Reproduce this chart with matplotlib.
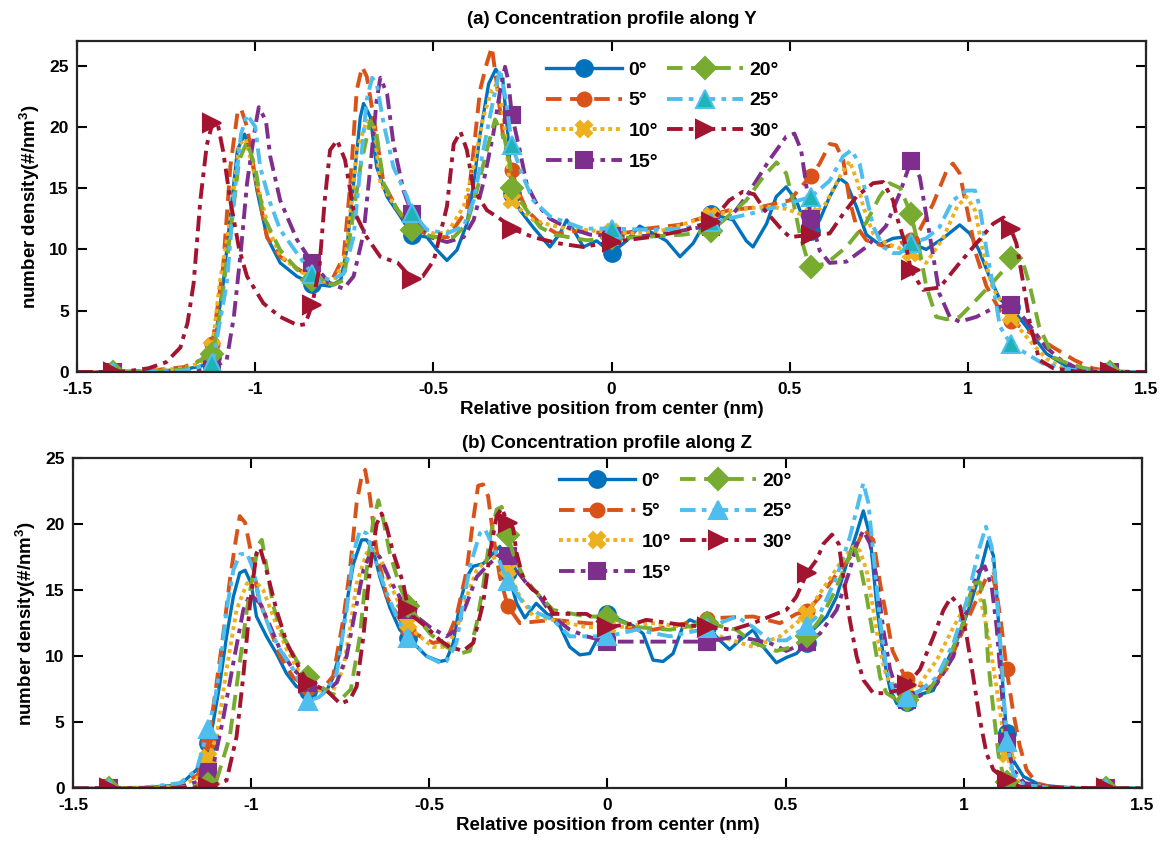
import numpy as np
import matplotlib
matplotlib.use('Agg')
import matplotlib.pyplot as plt

plt.rcParams['font.family'] = ['Liberation Sans', 'DejaVu Sans']
plt.rcParams['font.weight'] = 'bold'
plt.rcParams['axes.unicode_minus'] = False
plt.rcParams['mathtext.fontset'] = 'custom'
plt.rcParams['mathtext.rm'] = 'Liberation Sans:bold'
plt.rcParams['mathtext.bf'] = 'Liberation Sans:bold'
plt.rcParams['mathtext.it'] = 'Liberation Sans:bold:italic'

labels = ['0°', '5°', '10°', '15°', '20°', '25°', '30°']
marker_x = [-1.4, -1.12, -0.84, -0.56, -0.28, 0.0, 0.28, 0.56, 0.84, 1.12, 1.4]
xticks = [-1.5, -1, -0.5, 0, 0.5, 1, 1.5]
xtick_labels = ['-1.5', '-1', '-0.5', '0', '0.5', '1', '1.5']
yticks = [0, 5, 10, 15, 20, 25]

# ---------------- (a) profile along Y : (x, density) ----------------
a_0 = [(-1.5,0),(-1.4,0),(-1.3,0.05),(-1.2,0.2),(-1.15,0.5),(-1.12,1.2),(-1.09,7.2),(-1.07,12.7),(-1.05,18.1),(-1.03,19.4),(-1.014,18.1),(-0.995,14.8),(-0.967,11.0),(-0.93,8.9),(-0.883,7.8),(-0.84,7.2),(-0.79,7.0),(-0.76,7.5),(-0.743,10.0),(-0.724,15.4),(-0.705,20.8),(-0.696,21.9),(-0.677,20.8),(-0.659,16.7),(-0.63,14.3),(-0.593,12.7),(-0.56,11.2),(-0.518,11.0),(-0.49,9.95),(-0.462,9.1),(-0.434,9.95),(-0.406,12.1),(-0.387,15.4),(-0.369,19.4),(-0.345,23.5),(-0.325,24.7),(-0.305,23.8),(-0.29,19.0),(-0.28,14.5),(-0.257,13.2),(-0.22,11.8),(-0.173,10.2),(-0.145,11.3),(-0.126,12.4),(-0.107,11.6),(-0.079,10.2),(-0.042,10.7),(0.0,9.7),(0.042,10.7),(0.079,11.9),(0.117,11.3),(0.154,10.7),(0.192,9.4),(0.229,10.5),(0.266,12.4),(0.28,12.9),(0.341,12.4),(0.378,10.7),(0.397,10.2),(0.435,12.1),(0.462,14.3),(0.49,15.1),(0.518,14.0),(0.546,11.9),(0.56,11.5),(0.584,12.4),(0.612,14.3),(0.64,15.8),(0.659,15.4),(0.687,13.5),(0.715,11.2),(0.752,10.4),(0.79,10.9),(0.818,11.0),(0.84,10.5),(0.883,10.0),(0.93,10.9),(0.977,12.0),(1.005,11.3),(1.03,10.0),(1.06,7.8),(1.09,5.9),(1.12,5.3),(1.164,3.7),(1.22,1.5),(1.28,0.4),(1.35,0.05),(1.4,0),(1.5,0)]
a_5 = [(-1.5,0),(-1.4,0),(-1.3,0.1),(-1.2,0.4),(-1.15,1.0),(-1.12,2.3),(-1.09,8.6),(-1.07,16.7),(-1.05,21.1),(-1.04,21.5),(-1.023,20.0),(-1.0,15.9),(-0.967,11.0),(-0.93,9.4),(-0.88,8.4),(-0.84,7.7),(-0.79,7.2),(-0.752,9.4),(-0.733,15.4),(-0.715,23.0),(-0.7,24.9),(-0.687,24.1),(-0.668,20.8),(-0.64,15.4),(-0.6,13.2),(-0.56,11.8),(-0.5,11.0),(-0.46,11.0),(-0.406,13.2),(-0.387,18.1),(-0.369,23.0),(-0.35,25.2),(-0.336,26.5),(-0.322,23.5),(-0.303,18.9),(-0.28,16.5),(-0.266,15.0),(-0.238,13.2),(-0.2,12.1),(-0.154,11.3),(-0.1,11.5),(-0.05,11.4),(0.0,11.3),(0.05,11.4),(0.1,11.7),(0.19,12.0),(0.28,12.8),(0.33,13.2),(0.425,13.5),(0.5,14.0),(0.547,15.6),(0.56,16.0),(0.584,17.0),(0.612,18.6),(0.63,18.5),(0.65,17.3),(0.668,14.0),(0.687,11.9),(0.715,10.75),(0.77,10.2),(0.82,10.6),(0.84,10.8),(0.865,11.6),(0.902,13.7),(0.94,16.4),(0.958,17.0),(0.977,16.2),(0.996,13.5),(1.024,9.5),(1.052,7.0),(1.09,5.0),(1.12,4.2),(1.146,3.7),(1.192,2.9),(1.24,2.0),(1.3,0.95),(1.35,0.3),(1.4,0.05),(1.5,0)]
a_10 = [(-1.5,0),(-1.4,0),(-1.3,0.1),(-1.2,0.3),(-1.15,0.8),(-1.12,2.0),(-1.1,7.2),(-1.07,12.5),(-1.045,18.6),(-1.027,19.0),(-1.0,15.9),(-0.96,11.5),(-0.93,9.5),(-0.88,8.3),(-0.84,7.7),(-0.78,7.2),(-0.745,9.7),(-0.715,18.1),(-0.687,20.5),(-0.667,20.0),(-0.649,15.4),(-0.6,13.2),(-0.56,12.0),(-0.5,11.3),(-0.46,11.4),(-0.415,13.5),(-0.387,16.7),(-0.36,20.8),(-0.336,23.0),(-0.322,23.5),(-0.303,20.8),(-0.29,16.5),(-0.28,14.0),(-0.257,13.3),(-0.22,12.4),(-0.173,12.0),(-0.126,11.7),(-0.08,11.6),(0.0,11.4),(0.061,11.3),(0.154,11.6),(0.248,12.5),(0.28,12.7),(0.341,13.2),(0.435,13.5),(0.49,13.3),(0.528,12.9),(0.56,12.7),(0.6,13.7),(0.64,15.9),(0.668,17.2),(0.69,15.5),(0.706,13.5),(0.734,11.3),(0.77,10.5),(0.8,10.2),(0.84,9.7),(0.883,8.9),(0.93,10.9),(0.97,13.5),(0.996,14.3),(1.02,13.2),(1.043,9.7),(1.07,6.8),(1.12,4.6),(1.146,3.5),(1.184,2.2),(1.22,1.1),(1.26,0.4),(1.3,0.1),(1.4,0),(1.5,0)]
a_15 = [(-1.5,0),(-1.4,0),(-1.3,0.02),(-1.2,0.05),(-1.12,0.3),(-1.08,1.0),(-1.06,4.5),(-1.04,9.95),(-1.023,15.4),(-1.0,20.0),(-0.99,21.6),(-0.97,20.5),(-0.958,17.6),(-0.93,14.0),(-0.883,10.8),(-0.84,8.9),(-0.79,7.2),(-0.752,6.8),(-0.724,7.8),(-0.696,11.3),(-0.677,16.7),(-0.659,22.2),(-0.649,24.0),(-0.63,22.7),(-0.612,18.6),(-0.584,14.8),(-0.56,12.9),(-0.509,11.0),(-0.462,10.6),(-0.415,11.0),(-0.387,12.4),(-0.36,15.4),(-0.332,19.4),(-0.313,22.9),(-0.299,24.9),(-0.29,23.8),(-0.28,21.0),(-0.257,18.0),(-0.238,15.3),(-0.21,13.7),(-0.173,12.5),(-0.126,11.8),(-0.06,11.2),(0.0,11.1),(0.061,11.0),(0.154,11.3),(0.248,11.8),(0.28,11.8),(0.341,12.9),(0.378,14.3),(0.443,17.3),(0.49,19.2),(0.513,19.45),(0.532,18.1),(0.547,15.1),(0.56,12.5),(0.584,9.9),(0.612,8.9),(0.659,9.0),(0.715,10.2),(0.77,11.9),(0.809,14.6),(0.84,17.2),(0.865,15.9),(0.892,11.3),(0.92,6.4),(0.949,4.5),(0.977,4.1),(1.024,4.5),(1.071,5.2),(1.12,5.5),(1.146,4.8),(1.184,3.4),(1.22,2.0),(1.26,1.0),(1.3,0.4),(1.4,0),(1.5,0)]
a_20 = [(-1.5,0),(-1.4,0),(-1.3,0.05),(-1.2,0.2),(-1.12,1.5),(-1.1,4.5),(-1.07,11.3),(-1.045,17.3),(-1.023,18.8),(-1.0,16.7),(-0.977,12.7),(-0.93,9.95),(-0.88,8.3),(-0.84,7.5),(-0.78,7.1),(-0.752,7.5),(-0.733,11.3),(-0.705,16.7),(-0.677,20.5),(-0.66,19.5),(-0.64,15.4),(-0.6,13.2),(-0.56,11.6),(-0.5,11.0),(-0.443,11.0),(-0.406,12.1),(-0.378,14.8),(-0.35,18.1),(-0.327,20.6),(-0.3,19.0),(-0.284,16.7),(-0.28,15.0),(-0.238,13.2),(-0.2,11.8),(-0.16,11.2),(-0.07,10.75),(0.0,10.9),(0.08,11.0),(0.2,11.2),(0.28,11.5),(0.378,14.0),(0.425,15.9),(0.463,17.1),(0.49,16.2),(0.509,14.0),(0.528,11.3),(0.547,9.4),(0.56,8.6),(0.603,8.85),(0.659,10.2),(0.715,12.2),(0.752,14.3),(0.78,15.4),(0.81,15.0),(0.84,12.9),(0.864,10.0),(0.883,7.0),(0.911,4.5),(0.94,4.3),(0.977,4.5),(1.024,5.9),(1.06,7.0),(1.1,8.3),(1.12,9.3),(1.155,8.9),(1.174,7.0),(1.2,3.7),(1.24,1.2),(1.28,0.7),(1.33,0.3),(1.4,0),(1.5,0)]
a_25 = [(-1.5,0),(-1.4,0),(-1.3,0.02),(-1.2,0.1),(-1.12,0.7),(-1.08,7.2),(-1.06,14.0),(-1.04,19.4),(-1.023,21.0),(-1.0,20.0),(-0.986,16.7),(-0.958,13.8),(-0.93,11.6),(-0.883,9.7),(-0.84,8.0),(-0.79,7.5),(-0.752,8.0),(-0.724,11.0),(-0.705,16.7),(-0.687,22.2),(-0.672,24.0),(-0.659,23.5),(-0.64,20.3),(-0.612,16.7),(-0.574,14.3),(-0.56,13.0),(-0.518,11.6),(-0.462,11.3),(-0.415,11.9),(-0.387,14.0),(-0.36,18.1),(-0.332,22.2),(-0.313,24.7),(-0.295,22.0),(-0.28,18.5),(-0.248,15.9),(-0.22,14.0),(-0.173,12.7),(-0.08,11.7),(0.0,11.7),(0.107,11.6),(0.2,11.7),(0.28,12.2),(0.388,12.9),(0.48,13.6),(0.56,14.3),(0.612,15.6),(0.65,17.6),(0.673,18.1),(0.696,17.0),(0.715,14.3),(0.734,11.9),(0.762,10.2),(0.79,9.7),(0.809,9.7),(0.84,10.5),(0.883,10.9),(0.92,11.8),(0.958,14.0),(0.996,14.8),(1.02,14.8),(1.033,13.5),(1.052,10.0),(1.071,7.0),(1.09,3.7),(1.12,2.3),(1.164,1.5),(1.21,0.7),(1.28,0.2),(1.4,0),(1.5,0)]
a_30 = [(-1.5,0),(-1.4,0),(-1.35,0.1),(-1.3,0.3),(-1.25,0.8),(-1.21,2.0),(-1.19,4.0),(-1.173,7.2),(-1.154,14.0),(-1.136,18.5),(-1.12,20.3),(-1.107,20.5),(-1.09,18.0),(-1.07,14.0),(-1.045,10.0),(-1.023,7.8),(-0.977,5.6),(-0.93,4.5),(-0.88,3.8),(-0.86,3.9),(-0.84,5.5),(-0.82,8.5),(-0.805,14.0),(-0.79,18.1),(-0.77,18.9),(-0.748,17.3),(-0.724,13.2),(-0.687,11.0),(-0.649,9.4),(-0.6,8.9),(-0.56,7.6),(-0.53,7.8),(-0.499,9.1),(-0.462,13.5),(-0.443,18.6),(-0.424,19.6),(-0.406,18.1),(-0.387,14.9),(-0.35,13.2),(-0.313,12.5),(-0.28,11.7),(-0.22,11.0),(-0.15,10.5),(-0.08,10.2),(0.0,10.6),(0.107,11.0),(0.19,11.45),(0.28,12.25),(0.33,14.0),(0.368,14.7),(0.4,14.5),(0.43,13.2),(0.472,11.8),(0.5,11.0),(0.56,11.2),(0.612,11.3),(0.65,12.9),(0.687,14.3),(0.734,15.4),(0.762,15.5),(0.79,14.0),(0.80,12.7),(0.827,10.2),(0.84,8.3),(0.874,6.7),(0.921,6.9),(0.977,8.9),(1.024,10.5),(1.071,12.1),(1.1,12.6),(1.12,11.7),(1.136,10.5),(1.155,7.3),(1.174,4.0),(1.2,1.0),(1.24,0.3),(1.3,0.05),(1.4,0),(1.5,0)]

# ---------------- (b) profile along Z : (x, density) ----------------
b_0 = [(-1.5,0),(-1.4,0),(-1.3,0.05),(-1.2,0.25),(-1.153,1.4),(-1.12,3.4),(-1.107,4.9),(-1.088,7.9),(-1.069,11.5),(-1.05,14.5),(-1.032,16.3),(-1.017,16.5),(-1.0,15.5),(-0.985,13.0),(-0.957,11.5),(-0.929,10.2),(-0.901,8.7),(-0.873,7.7),(-0.84,7.4),(-0.788,7.4),(-0.77,8.4),(-0.75,10.4),(-0.732,14.0),(-0.713,17.0),(-0.69,18.8),(-0.676,18.8),(-0.657,18.0),(-0.639,16.0),(-0.611,13.7),(-0.583,12.0),(-0.56,11.4),(-0.508,10.0),(-0.47,9.6),(-0.452,9.7),(-0.433,11.0),(-0.414,14.0),(-0.395,16.0),(-0.377,16.8),(-0.349,17.0),(-0.32,17.8),(-0.302,18.3),(-0.288,17.3),(-0.28,16.4),(-0.255,14.0),(-0.232,12.9),(-0.2,14.0),(-0.162,13.0),(-0.134,12.3),(-0.106,10.7),(-0.078,10.1),(-0.05,10.2),(-0.021,11.7),(0.0,13.2),(0.035,12.75),(0.072,12.3),(0.1,11.7),(0.128,9.7),(0.156,9.6),(0.184,10.2),(0.212,12.3),(0.231,12.75),(0.28,12.2),(0.315,11.2),(0.343,10.5),(0.371,11.2),(0.409,12.0),(0.437,10.7),(0.474,9.5),(0.502,9.9),(0.53,10.2),(0.56,11.0),(0.577,12.0),(0.615,13.0),(0.643,14.5),(0.671,17.0),(0.699,19.3),(0.718,21.0),(0.737,19.06),(0.755,14.0),(0.774,10.0),(0.793,7.5),(0.812,6.4),(0.84,6.5),(0.877,7.1),(0.914,7.4),(0.951,9.5),(0.989,11.7),(1.017,13.8),(1.045,16.3),(1.068,18.7),(1.083,17.6),(1.092,14.8),(1.101,10.9),(1.112,6.8),(1.12,4.2),(1.139,2.1),(1.167,0.9),(1.214,0.25),(1.3,0.02),(1.4,0),(1.5,0)]
b_5 = [(-1.5,0),(-1.4,0),(-1.3,0.05),(-1.2,0.2),(-1.15,1.0),(-1.12,3.5),(-1.107,6.0),(-1.079,11.5),(-1.06,15.7),(-1.046,18.3),(-1.032,20.6),(-1.017,20.1),(-1.0,17.8),(-0.98,14.5),(-0.957,12.8),(-0.919,10.0),(-0.882,8.4),(-0.84,7.6),(-0.8,7.5),(-0.77,8.5),(-0.742,12.7),(-0.723,16.5),(-0.704,21.6),(-0.69,23.6),(-0.68,24.1),(-0.667,22.1),(-0.648,18.0),(-0.62,14.5),(-0.583,12.8),(-0.56,12.0),(-0.49,11.0),(-0.452,11.2),(-0.424,13.0),(-0.395,16.5),(-0.377,20.3),(-0.363,22.9),(-0.349,23.0),(-0.335,22.1),(-0.32,19.0),(-0.302,16.0),(-0.28,13.8),(-0.246,12.5),(-0.153,12.75),(-0.059,12.5),(0.0,12.4),(0.035,12.2),(0.128,12.0),(0.222,12.5),(0.28,12.8),(0.315,12.9),(0.409,13.0),(0.484,12.5),(0.53,13.2),(0.56,13.4),(0.596,14.5),(0.643,16.2),(0.69,17.8),(0.72,19.6),(0.746,18.8),(0.765,15.5),(0.783,13.0),(0.8,10.4),(0.83,8.7),(0.84,8.3),(0.86,8.0),(0.9,7.5),(0.951,9.0),(0.99,11.5),(1.036,14.3),(1.064,16.0),(1.08,16.2),(1.092,14.8),(1.106,12.2),(1.12,9.0),(1.139,5.7),(1.157,3.2),(1.176,1.4),(1.204,0.4),(1.25,0.05),(1.4,0),(1.5,0)]
b_10 = [(-1.5,0),(-1.4,0),(-1.3,0.03),(-1.2,0.15),(-1.15,0.8),(-1.12,2.3),(-1.097,3.9),(-1.069,9.0),(-1.041,13.5),(-1.012,15.5),(-0.993,15.8),(-0.966,15.0),(-0.938,13.0),(-0.9,10.5),(-0.863,8.7),(-0.84,8.0),(-0.807,7.4),(-0.77,7.4),(-0.742,9.0),(-0.723,12.0),(-0.704,15.5),(-0.676,17.8),(-0.657,18.0),(-0.635,17.3),(-0.611,15.5),(-0.573,13.3),(-0.56,12.5),(-0.536,11.7),(-0.49,10.7),(-0.452,10.7),(-0.424,12.0),(-0.395,14.5),(-0.367,16.5),(-0.339,17.3),(-0.311,17.5),(-0.283,16.8),(-0.28,16.6),(-0.246,14.5),(-0.208,13.0),(-0.153,12.75),(-0.059,12.2),(0.0,12.2),(0.035,12.2),(0.128,12.5),(0.222,12.2),(0.28,11.9),(0.315,11.5),(0.409,10.7),(0.484,11.5),(0.53,12.5),(0.56,13.2),(0.577,14.0),(0.615,15.5),(0.652,17.0),(0.69,18.3),(0.708,18.0),(0.727,16.5),(0.746,13.5),(0.765,10.4),(0.783,8.4),(0.821,7.4),(0.84,7.5),(0.877,7.9),(0.924,9.7),(0.971,12.2),(1.008,14.0),(1.026,15.2),(1.045,14.5),(1.064,12.2),(1.083,9.2),(1.101,5.9),(1.12,2.6),(1.139,0.9),(1.17,0.25),(1.25,0.02),(1.4,0),(1.5,0)]
b_15 = [(-1.5,0),(-1.4,0),(-1.3,0.02),(-1.2,0.1),(-1.15,0.5),(-1.12,1.2),(-1.107,1.6),(-1.079,5.2),(-1.05,9.5),(-1.022,13.5),(-1.003,14.7),(-0.975,14.0),(-0.947,12.3),(-0.919,10.5),(-0.882,9.0),(-0.84,8.0),(-0.788,7.4),(-0.76,8.0),(-0.732,10.0),(-0.713,12.7),(-0.685,16.5),(-0.662,18.0),(-0.639,17.5),(-0.611,15.8),(-0.573,14.0),(-0.56,13.5),(-0.498,12.2),(-0.452,11.5),(-0.424,12.0),(-0.395,14.0),(-0.367,16.0),(-0.339,16.8),(-0.311,17.5),(-0.288,18.0),(-0.28,17.6),(-0.255,16.5),(-0.227,15.5),(-0.19,14.5),(-0.153,13.0),(-0.106,12.0),(-0.059,11.5),(0.0,11.1),(0.081,11.1),(0.175,11.1),(0.28,11.1),(0.362,11.5),(0.455,11.0),(0.502,10.4),(0.56,11.1),(0.596,11.7),(0.643,13.5),(0.68,16.5),(0.699,18.5),(0.718,19.5),(0.737,18.5),(0.755,16.0),(0.774,12.0),(0.793,9.0),(0.812,7.4),(0.84,6.7),(0.877,7.0),(0.924,7.9),(0.971,10.0),(1.008,13.5),(1.036,16.3),(1.059,16.8),(1.078,15.3),(1.092,12.2),(1.101,9.2),(1.111,5.7),(1.12,3.5),(1.139,1.4),(1.17,0.4),(1.25,0.03),(1.4,0),(1.5,0)]
b_20 = [(-1.5,0),(-1.4,0),(-1.3,0.01),(-1.2,0.05),(-1.12,0.3),(-1.097,0.6),(-1.06,3.9),(-1.032,9.5),(-1.012,13.5),(-0.993,16.5),(-0.979,18.5),(-0.97,18.8),(-0.957,16.8),(-0.938,13.8),(-0.91,11.5),(-0.873,9.7),(-0.84,8.4),(-0.779,7.2),(-0.742,6.9),(-0.72,7.5),(-0.695,11.5),(-0.676,16.5),(-0.657,20.3),(-0.643,21.8),(-0.629,20.3),(-0.611,17.8),(-0.583,15.3),(-0.56,13.8),(-0.545,13.3),(-0.498,11.7),(-0.452,10.7),(-0.414,10.2),(-0.386,10.4),(-0.367,12.5),(-0.349,15.3),(-0.33,19.0),(-0.311,21.1),(-0.297,21.3),(-0.28,19.2),(-0.265,17.8),(-0.236,16.0),(-0.199,14.8),(-0.153,13.5),(-0.059,13.0),(0.0,13.0),(0.081,12.2),(0.175,12.0),(0.28,12.5),(0.362,12.0),(0.409,11.0),(0.474,10.4),(0.52,10.7),(0.56,11.5),(0.596,12.75),(0.634,14.7),(0.671,17.0),(0.69,18.5),(0.708,17.0),(0.727,14.5),(0.746,11.5),(0.765,8.4),(0.783,7.2),(0.812,6.7),(0.84,6.7),(0.9,7.3),(0.952,9.5),(0.999,12.5),(1.026,15.5),(1.045,15.6),(1.059,13.8),(1.068,9.7),(1.083,5.9),(1.097,2.6),(1.111,0.9),(1.12,0.5),(1.16,0.1),(1.4,0),(1.5,0)]
b_25 = [(-1.5,0),(-1.4,0),(-1.3,0.05),(-1.2,0.4),(-1.153,1.4),(-1.12,4.5),(-1.1,7.0),(-1.088,9.0),(-1.069,13.5),(-1.05,16.5),(-1.032,17.7),(-1.012,17.8),(-0.993,16.5),(-0.975,14.0),(-0.947,12.0),(-0.919,10.5),(-0.882,9.0),(-0.86,7.8),(-0.84,6.6),(-0.81,6.9),(-0.788,7.4),(-0.76,8.7),(-0.732,13.5),(-0.713,17.8),(-0.695,19.5),(-0.676,19.3),(-0.655,17.5),(-0.62,14.8),(-0.592,13.0),(-0.56,11.4),(-0.508,10.0),(-0.47,9.5),(-0.452,9.6),(-0.424,11.0),(-0.405,14.0),(-0.386,16.8),(-0.358,19.3),(-0.344,19.6),(-0.32,18.3),(-0.293,16.5),(-0.28,15.7),(-0.236,14.0),(-0.199,13.3),(-0.153,12.75),(-0.106,11.5),(-0.059,11.5),(0.0,11.5),(0.081,12.0),(0.175,11.5),(0.28,12.1),(0.315,12.5),(0.362,13.0),(0.409,12.2),(0.455,11.2),(0.502,11.2),(0.56,12.3),(0.596,13.2),(0.643,16.0),(0.68,19.0),(0.704,21.6),(0.718,23.1),(0.732,21.6),(0.746,17.8),(0.765,12.75),(0.783,9.0),(0.802,7.4),(0.84,6.9),(0.877,7.4),(0.924,8.4),(0.971,11.0),(1.008,14.2),(1.045,18.3),(1.062,19.8),(1.078,18.3),(1.092,14.8),(1.106,9.7),(1.12,3.5),(1.139,1.1),(1.17,0.25),(1.25,0.02),(1.4,0),(1.5,0)]
b_30 = [(-1.5,0),(-1.4,0),(-1.3,0.01),(-1.2,0.02),(-1.12,0.1),(-1.1,0.3),(-1.069,0.6),(-1.041,3.9),(-1.022,8.5),(-1.003,14.0),(-0.985,17.8),(-0.975,18.2),(-0.957,16.5),(-0.929,13.5),(-0.9,11.0),(-0.863,9.0),(-0.84,8.0),(-0.788,7.4),(-0.75,6.4),(-0.723,6.7),(-0.704,7.7),(-0.685,11.5),(-0.667,16.5),(-0.648,20.0),(-0.634,20.8),(-0.62,19.8),(-0.601,17.8),(-0.573,15.5),(-0.56,13.6),(-0.545,13.0),(-0.508,12.2),(-0.47,11.2),(-0.443,10.7),(-0.405,10.4),(-0.377,11.0),(-0.349,14.0),(-0.33,17.8),(-0.311,20.6),(-0.297,21.2),(-0.28,20.1),(-0.265,19.7),(-0.255,17.8),(-0.236,15.8),(-0.208,15.0),(-0.18,14.5),(-0.153,13.2),(-0.059,13.2),(0.0,12.2),(0.081,12.5),(0.109,12.75),(0.2,12.4),(0.28,12.2),(0.35,12.0),(0.409,12.5),(0.455,13.0),(0.502,13.5),(0.53,14.5),(0.56,16.3),(0.587,17.3),(0.606,18.5),(0.63,19.2),(0.649,18.5),(0.662,16.0),(0.68,12.75),(0.699,10.0),(0.718,8.2),(0.746,7.2),(0.78,7.2),(0.812,7.4),(0.84,7.8),(0.877,9.0),(0.915,11.5),(0.943,13.5),(0.965,14.5),(0.989,13.8),(1.008,11.5),(1.026,8.5),(1.045,5.2),(1.064,2.6),(1.083,1.4),(1.12,0.6),(1.16,0.1),(1.4,0),(1.5,0)]

series_a = [a_0, a_5, a_10, a_15, a_20, a_25, a_30]
series_b = [b_0, b_5, b_10, b_15, b_20, b_25, b_30]

# ---------------- styles ----------------
colors = ['#0072BD', '#D95319', '#EDB120', '#7E2F8E', '#77AC30', '#4DBEEE', '#A2142F']
markers = ['o', 'o', 'X', 's', 'D', '^', '>']
msizes = [12, 10, 12, 11, 11, 13, 13]
dash_solid = '-'
dash_dashed = (0, (4.0, 2.2))
dash_dotted = (0, (1.0, 1.0))
dash_dashdot = (0, (4.0, 1.6, 1.2, 1.6))
linestyles = [dash_solid, dash_dashed, dash_dotted, dash_dashdot, dash_dashed, dash_dashdot, dash_dashdot]
lwidths = [2.4, 2.8, 2.8, 2.8, 2.8, 2.8, 2.8]
face_a = ['#0072BD', '#D95319', '#EDB120', '#7E2F8E', '#77AC30', '#1DB3B8', '#A2142F']
face_b = ['#0072BD', '#D95319', '#EDB120', '#7E2F8E', '#77AC30', '#4DBEEE', '#A2142F']

fig = plt.figure(figsize=(11.64, 8.47), dpi=100)
ax_a = fig.add_axes([0.0662, 0.5608, 0.9184, 0.3908])
ax_b = fig.add_axes([0.0627, 0.0693, 0.9184, 0.3900])


def draw(ax, series, faces, ylim, title, title_pad, legend_anchor):
    handles = []
    for i, data in enumerate(series):
        arr = np.array(data, dtype=float)
        xs, ys = arr[:, 0], arr[:, 1]
        idx = [k for k, xv in enumerate(xs) if np.any(np.isclose(xv, marker_x))]
        ln, = ax.plot(xs, ys, color=colors[i], linestyle=linestyles[i],
                      linewidth=lwidths[i], marker=markers[i], markevery=idx,
                      markersize=msizes[i], markerfacecolor=faces[i],
                      markeredgecolor=colors[i], markeredgewidth=1.5,
                      dash_capstyle='butt', label=labels[i])
        handles.append(ln)
    ax.set_xlim(-1.5, 1.5)
    ax.set_ylim(*ylim)
    ax.set_xticks(xticks)
    ax.set_xticklabels(xtick_labels)
    ax.set_yticks(yticks)
    ax.tick_params(direction='in', top=True, right=True, length=7, width=1.5,
                   labelsize=12.5)
    ax.tick_params(axis='x', pad=7)
    ax.tick_params(axis='y', pad=6)
    for sp in ax.spines.values():
        sp.set_linewidth(1.6)
        sp.set_color('#262626')
    ax.set_xlabel('Relative position from center (nm)', fontsize=13.5,
                  fontweight='bold', labelpad=3)
    ax.set_ylabel(r'number density(#/nm$^\mathbf{3}$)', fontsize=13.5,
                  fontweight='bold', labelpad=5)
    ax.set_title(title, fontsize=13.5, fontweight='bold', pad=title_pad)
    ax.legend(handles=handles, ncol=2, loc='upper left',
              bbox_to_anchor=legend_anchor, bbox_transform=fig.transFigure,
              frameon=False, fontsize=14, handlelength=3.9, handletextpad=0.35,
              columnspacing=0.45, labelspacing=0.68, borderpad=0.0,
              borderaxespad=0.0, markerscale=1.0)


draw(ax_a, series_a, face_a, (0, 27), '(a) Concentration profile along Y', 12,
     (546 / 1164, 1 - 61 / 847))
draw(ax_b, series_b, face_b, (0, 25), '(b) Concentration profile along Z', 7,
     (559 / 1164, 1 - 472 / 847))

fig.savefig('out.png', dpi=100)
